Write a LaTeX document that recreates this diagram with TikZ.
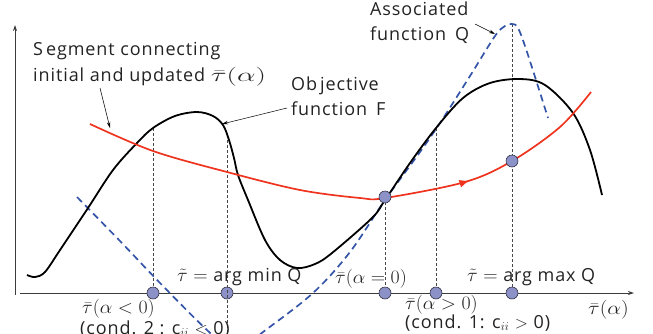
\documentclass[tikz,border=0pt]{standalone}
\usepackage{fontspec}
\setmainfont{Open Sans}[LetterSpace=5]
\usetikzlibrary{arrows.meta,decorations.markings}
\definecolor{fred}{RGB}{238,52,30}
\definecolor{qblue}{RGB}{52,84,168}
\definecolor{dotfill}{RGB}{140,145,200}
\definecolor{dotline}{RGB}{50,50,70}
\definecolor{axisc}{RGB}{60,60,60}
\definecolor{guide}{RGB}{70,70,70}
\definecolor{txt}{RGB}{35,35,35}
\newcommand\mathlbl[1]{\scalebox{1.15}[1.1]{$#1$}}
\begin{document}
\begin{tikzpicture}[x=1pt,y=-1pt,
  lbl/.style={font=\fontsize{18}{21}\selectfont, inner sep=0pt, anchor=base west, text=txt},
  dot/.style={circle, minimum size=12pt, inner sep=0pt, fill=dotfill, draw=dotline, line width=0.6pt},
  fcurve/.style={line width=1.8pt, black},
  rcurve/.style={line width=1.7pt, fred},
  qcurve/.style={line width=1.7pt, qblue, dash pattern=on 7pt off 4.5pt},
  guideline/.style={line width=0.7pt, guide, dash pattern=on 3pt off 2pt},
  axisline/.style={line width=0.8pt, axisc, -{Stealth[length=6pt,width=4pt]}},
  pointer/.style={line width=0.5pt, black, -{Stealth[length=6pt,width=3.5pt]}}]
\useasboundingbox (0,0) rectangle (653,333);

% axes
\coordinate (ybot) at (15,295);
\coordinate (ytop) at (15,25);
\coordinate (xleft) at (20,293);
\coordinate (xright) at (634,293);
\draw[axisline] (ybot) -- (ytop);
\draw[axisline] (xleft) -- (xright);

% points on curves
\coordinate (f1) at (153,128);
\coordinate (f2) at (227,140);
\coordinate (f4) at (436,128);
\coordinate (qpeak) at (512,24);
\coordinate (g2) at (227,333);

% axis dots
\node[dot] (d1) at (153,293) {};
\node[dot] (d2) at (227,293) {};
\node[dot] (d3) at (385,293) {};
\node[dot] (d4) at (436,293) {};
\node[dot] (d5) at (512,293) {};

% guide lines
\draw[guideline] (f1) -- (d1);
\draw[guideline] (f2) -- (g2);
\draw[guideline] (385,197) -- (d3);
\draw[guideline] (f4) -- (d4);
\draw[guideline] (qpeak) -- (d5);

% function Q
\begin{scope}
\clip (0,0) rectangle (653,333);
\draw[qcurve] plot[smooth, tension=0.55] coordinates {
  (77,197) (120,241) (160,283) (207,330) (235,352) (263,332) (313,293)
  (350,252) (385,200) (420,152) (442,120) (470,76) (495,36) (505,26)
  (512,24) (518,28) (527,52) (548,118)};
\end{scope}

% objective function F
\draw[fcurve] plot[smooth, tension=0.55] coordinates {
  (27,275) (35,277) (45,272) (60,250) (88,208) (113,170) (137,143) (153,128)
  (175,116) (197,112) (213,116) (223,125) (229,140) (234,158) (238,175)
  (248,200) (265,240) (280,260) (297,268) (315,264) (332,253) (372,218)
  (385,200) (410,163) (436,128) (463,98) (490,83) (520,79) (545,85)
  (573,113) (590,150) (602,195)};

% segment (red)
\draw[rcurve, postaction={decorate, decoration={markings,
    mark=at position 0.72 with {\arrow{Latex[length=10pt,width=8pt]}}}}]
  plot[smooth, tension=0.55] coordinates {
  (90,124) (153,151) (227,172) (300,190) (360,198) (385,198) (465,182)
  (512,161) (560,127) (591,92)};

% dots on curves
\node[dot] (m0) at (385,197) {};
\node[dot] (m1) at (512,161) {};

% labels
\node[lbl] (seg1) at (33,55) {S\,egment connecting};
\node[lbl] (seg2) at (33,81) {initial and updated \scalebox{1.7}[1.1]{$\bar{\tau}(\alpha)$}};
\node[lbl] (obj1) at (291,90) {Ob\,jective};
\node[lbl] (obj2) at (291,115) {function\enspace F};
\node[lbl] (as1) at (370,15) {Associated};
\node[lbl] (as2) at (370,40) {function\enspace Q};

\node[lbl] (amin) at (177,281) {\mathlbl{\tilde{\tau}=}\ arg min Q};
\node[lbl] (amax) at (467,281) {\mathlbl{\tilde{\tau}=}\ arg max Q};
\node[lbl] (azero) at (335,283) {\mathlbl{\bar{\tau}(\alpha=0)}};
\node[lbl] (aneg) at (82,313) {\mathlbl{\bar{\tau}(\alpha<0)}};
\node[lbl] (cneg) at (80,334) {(cond. 2 : c$_{ii}$ $<$ 0)};
\node[lbl] (apos) at (405,309) {\mathlbl{\bar{\tau}(\alpha>0)}};
\node[lbl] (cpos) at (405,328) {(cond. 1: c$_{ii}$ $>$ 0)};
\node[lbl] (axl) at (588,314) {\scalebox{1.25}[1.1]{$\bar{\tau}(\alpha)$}};

% pointers
\coordinate (segtail) at (100,88);
\coordinate (segtip) at (110,128);
\coordinate (objtail) at (287,108);
\coordinate (objtip) at (222,124);
\coordinate (qtail) at (475,24);
\coordinate (qtip) at (495,34);
\draw[pointer] (segtail) -- (segtip);
\draw[pointer] (objtail) -- (objtip);
\draw[pointer] (qtail) -- (qtip);
\end{tikzpicture}
\end{document}
